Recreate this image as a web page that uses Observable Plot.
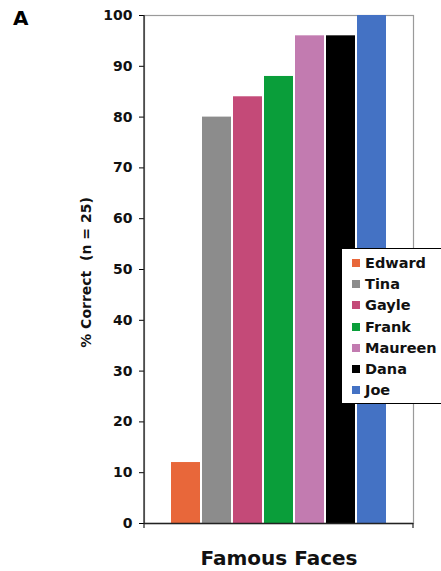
<!DOCTYPE html>
<html>
<head>
<meta charset="utf-8">
<script src="https://cdn.jsdelivr.net/npm/d3@7"></script>
<script src="https://cdn.jsdelivr.net/npm/@observablehq/plot@0.6"></script>
<style>
  html, body { margin: 0; padding: 0; background: #fff; }
  #wrap { position: relative; width: 441px; height: 571px; overflow: hidden; font-family: "DejaVu Sans", "Liberation Sans", Arial, sans-serif; }
  #panel { position: absolute; left: 13px; top: 6px; font-size: 20px; font-weight: bold; color: #000; }
  #legend { position: absolute; left: 341px; top: 248px; width: 110px; height: 156px; border: 1px solid #000; background: #fff; box-sizing: border-box; padding-top: 3px; }
  .item { display: flex; align-items: center; height: 21.3px; font-size: 14.5px; font-weight: bold; color: #111; }
  .sw { width: 8px; height: 8px; margin-left: 10px; margin-right: 5px; }
</style>
</head>
<body>
<div id="wrap">
  <div id="chart"></div>
  <div id="panel">A</div>
  <div id="legend"></div>
</div>
<script>
const names = ["Edward", "Tina", "Gayle", "Frank", "Maureen", "Dana", "Joe"];
const values = [12, 80, 84, 88, 96, 96, 100];
const colors = ["#E8673A", "#8C8C8C", "#C44A78", "#0A9E3A", "#C27BB0", "#000000", "#4472C4"];
const yTicks = [0, 10, 20, 30, 40, 50, 60, 70, 80, 90, 100];
const yLabel = "% Correct\u00a0 (n = 25)";
const xLabel = "Famous Faces";

const data = names.map((n, i) => ({name: n, value: values[i]}));

const chart = Plot.plot({
  width: 441,
  height: 571,
  marginLeft: 144,
  marginRight: 28,
  marginTop: 15,
  marginBottom: 48,
  style: {fontFamily: "DejaVu Sans, Liberation Sans, Arial, sans-serif", background: "#fff"},
  x: {domain: names, paddingInner: 0.065, paddingOuter: 0.78, axis: null},
  y: {domain: [0, 100], axis: null},
  color: {domain: names, range: colors},
  marks: [
    Plot.frame({stroke: "#9a9a9a", strokeWidth: 1.2}),
    Plot.barY(data, {x: "name", y: "value", fill: "name"}),
    Plot.axisY({ticks: yTicks, tickSize: 5, tickPadding: 7, fontSize: 14, fontWeight: "bold", label: null, stroke: "#000", color: "#111"}),
    Plot.ruleY([0], {stroke: "#222", strokeWidth: 1.3}),
    Plot.text([yLabel], {frameAnchor: "left", textAnchor: "middle", dx: -58, dy: 3, rotate: -90, fontSize: 14, fontWeight: "bold", fill: "#111"}),
    Plot.text([xLabel], {frameAnchor: "bottom", textAnchor: "middle", dy: 41, fontSize: 20, fontWeight: "bold", fill: "#111"})
  ]
});
document.getElementById("chart").appendChild(chart);

// left axis line and bottom end ticks, drawn with d3 using the plot's y scale
const svg = d3.select(chart);
const ys = chart.scale("y");
const y0 = ys.apply(0), y100 = ys.apply(100);
svg.append("line").attr("x1", 144).attr("x2", 144).attr("y1", y100).attr("y2", y0).attr("stroke", "#222").attr("stroke-width", 1.3);
[144, 413].forEach(x => svg.append("line").attr("x1", x).attr("x2", x).attr("y1", y0).attr("y2", y0 + 5).attr("stroke", "#222").attr("stroke-width", 1.2));

const leg = document.getElementById("legend");
names.forEach((n, i) => {
  const row = document.createElement("div");
  row.className = "item";
  const sw = document.createElement("span");
  sw.className = "sw";
  sw.style.background = colors[i];
  const t = document.createElement("span");
  t.textContent = n;
  row.appendChild(sw);
  row.appendChild(t);
  leg.appendChild(row);
});
</script>
</body>
</html>
